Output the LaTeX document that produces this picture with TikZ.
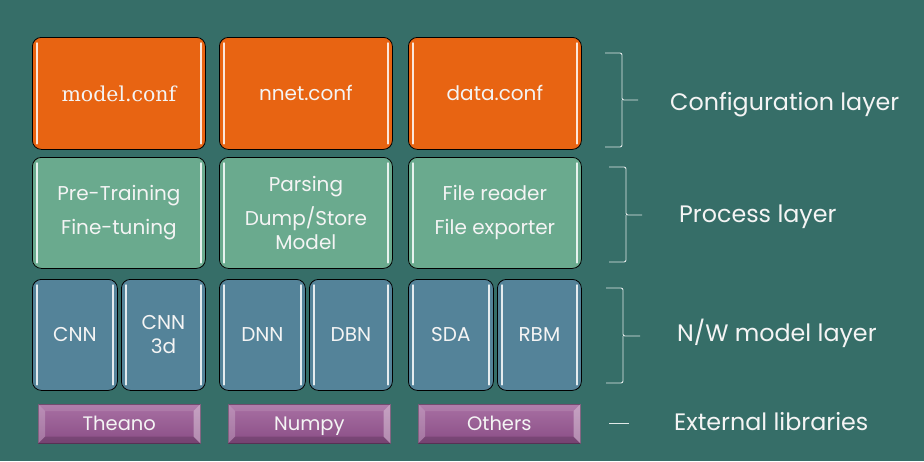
\documentclass[tikz,border=0pt]{standalone}
\usepackage{fontspec}
\setmainfont{Poppins}
\newfontfamily\confserif{DejaVu Serif}
\usetikzlibrary{calc}
\definecolor{bgcol}{HTML}{366E68}
\definecolor{confcol}{HTML}{E86412}
\definecolor{proccol}{HTML}{6AAA8E}
\definecolor{modcol}{HTML}{548399}
\definecolor{libtop}{HTML}{A870A3}
\definecolor{libbot}{HTML}{8A4E86}
\definecolor{txt}{HTML}{F4F4F4}
\tikzset{
  tile/.style={draw=black, line width=0.8pt, rounded corners=9pt, anchor=north west,
    inner sep=0pt, text=txt, align=center, font=\fontsize{20}{34}\selectfont},
  conftile/.style={tile, fill=confcol, minimum width=173pt, minimum height=112pt},
  proctile/.style={tile, fill=proccol, minimum width=173pt, minimum height=111pt},
  modtile/.style={tile, fill=modcol, minimum width=85pt, minimum height=111pt},
  libtile/.style={anchor=north west, minimum width=162pt, minimum height=39pt, inner sep=0pt,
    top color=libtop, bottom color=libbot, draw=libbot!70!black, line width=0.6pt},
  libtext/.style={text=txt, font=\fontsize{19.5}{22}\selectfont, text height=13pt, text depth=5pt, inner sep=0pt},
  shine/.style={draw=white, line width=1.4pt, opacity=0.85, line cap=round},
  bracket/.style={draw=white!85!bgcol, line width=0.9pt, rounded corners=2pt},
  layerlabel/.style={anchor=west, text=txt, inner sep=0pt, font=\fontsize{23.8}{26}\selectfont}
}
% white glints along the inner left and right edges of a tile
\newcommand\glint[1]{%
  \draw[shine] ($(#1.north west)+(5,6)$) -- ($(#1.south west)+(5,-6)$);
  \draw[shine] ($(#1.north east)+(-5,6)$) -- ($(#1.south east)+(-5,-6)$);}
% bevelled side facets of a library button
\newcommand\bevel[1]{%
  \fill[white, opacity=0.22] (#1.north west) -- ($(#1.north west)+(7,7)$) -- ($(#1.south west)+(7,-7)$) -- (#1.south west) -- cycle;
  \fill[white, opacity=0.35] (#1.north east) -- ($(#1.north east)+(-7,7)$) -- ($(#1.south east)+(-7,-7)$) -- (#1.south east) -- cycle;
  \fill[black, opacity=0.15] (#1.south west) -- ($(#1.south west)+(7,-7)$) -- ($(#1.south east)+(-7,-7)$) -- (#1.south east) -- cycle;
  \fill[white, opacity=0.10] (#1.north west) -- ($(#1.north west)+(7,7)$) -- ($(#1.north east)+(-7,7)$) -- (#1.north east) -- cycle;}
\begin{document}
\begin{tikzpicture}[x=1pt,y=-1pt]
\fill[bgcol] (0,0) rectangle (924,461);
\useasboundingbox (0,0) rectangle (924,461);

% configuration layer
\node[conftile, font=\confserif\fontsize{20.5}{24}\selectfont] (mconf) at (32,37) {model.conf};
\node[conftile] (nconf) at (219,37) {nnet.conf};
\node[conftile] (dconf) at (408,37) {data.conf};

% process layer
\node[proctile] (train) at (32,157) {\raisebox{-3pt}{Pre-Training}\\\raisebox{-3pt}{Fine-tuning}};
\node[proctile, font=\fontsize{20}{24}\selectfont] (parse) at (219,157) {Parsing\\[9pt]Dump/Store\\Model};
\node[proctile] (files) at (408,157) {\raisebox{-3pt}{File reader}\\\raisebox{-3pt}{File exporter}};

% network model layer
\node[modtile] (cnn) at (32,279) {CNN};
\node[modtile, minimum width=84pt, font=\fontsize{20}{24}\selectfont] (cnn3) at (121,279) {CNN\\3d};
\node[modtile, minimum width=86pt] (dnn) at (219,279) {DNN};
\node[modtile, minimum width=83pt] (dbn) at (309,279) {DBN};
\node[modtile] (sda) at (408,279) {SDA};
\node[modtile, minimum width=84pt] (rbm) at (497,279) {RBM};

\foreach \t in {mconf,nconf,dconf,train,parse,files,cnn,cnn3,dnn,dbn,sda,rbm}{\glint{\t}}

% external libraries
\node[libtile] (theano) at (38,404) {};
\node[libtile] (numpy) at (228,404) {};
\node[libtile] (others) at (418,404) {};
\foreach \t in {theano,numpy,others}{\bevel{\t}}
\node[libtext] (theanot) at ($(theano)+(0,3)$) {Theano};
\node[libtext] (numpyt) at ($(numpy)+(0,3)$) {Numpy};
\node[libtext] (otherst) at ($(others)+(0,3)$) {Others};

% layer brackets
\coordinate (b1) at (638,100);
\coordinate (b2) at (642,215);
\coordinate (b3) at (640,336);
\draw[bracket] (605,53) -- (622,53) -- (622,100) -- (b1);
\draw[bracket] (622,100) -- (622,147) -- (605,147);
\draw[bracket] (609,167) -- (626,167) -- (626,215) -- (b2);
\draw[bracket] (626,215) -- (626,262) -- (609,262);
\draw[bracket] (606,288) -- (623,288) -- (623,336) -- (b3);
\draw[bracket] (623,336) -- (623,383) -- (606,383);
\coordinate (b4a) at (609,423);
\coordinate (b4) at (629,423);
\draw[bracket] (b4a) -- (b4);

\node[layerlabel] (lconf) at (670,105) {Configuration layer};
\node[layerlabel] (lproc) at (679,217) {Process layer};
\node[layerlabel] (lmod) at (677,333) {N/W model layer};
\node[layerlabel] (lext) at (674,422) {External libraries};
\end{tikzpicture}
\end{document}
